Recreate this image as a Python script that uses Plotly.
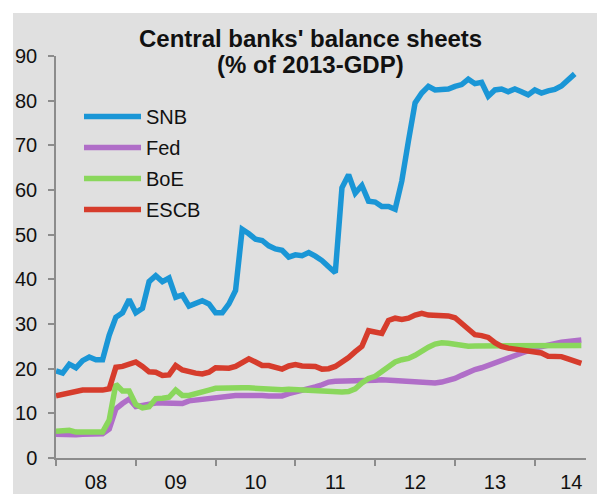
import plotly.graph_objects as go

# Monthly observations, Jan 2008 onward (month index 0 = Jan 2008)
snb = [19.5, 19.0, 21.0, 20.2, 21.8, 22.6, 22.0, 22.0, 27.5, 31.5, 32.5, 35.5,
       32.5, 33.5, 39.5, 40.8, 39.5, 40.3, 36.0, 36.5, 34.0, 34.5, 35.2, 34.5,
       32.5, 32.5, 34.5, 37.5, 51.2, 50.2, 49.0, 48.7, 47.5, 46.8, 46.5, 45.0,
       45.5, 45.3, 46.0, 45.2, 44.2, 42.8, 41.5, 60.5, 63.4, 59.3, 61.0, 57.5,
       57.3, 56.3, 56.3, 55.7, 62.0, 71.0, 79.5, 81.7, 83.2, 82.4, 82.5, 82.6,
       83.2, 83.6, 84.8, 83.8, 84.1, 81.0, 82.4, 82.6, 82.0, 82.6, 82.0, 81.3,
       82.4, 81.7, 82.2, 82.5, 83.3, 84.5, 86.0]
fed = [5.3, 5.2, 5.3, 5.2, 5.3, 5.3, 5.3, 5.4, 6.5, 11.0, 12.2, 13.2,
       11.5, 11.8, 12.0, 12.3, 12.3, 12.3, 12.0, 12.2, 12.8, 13.0, 13.2, 13.4,
       13.6, 13.8, 13.9, 14.0, 14.0, 14.1, 14.1, 14.0, 13.9, 13.9, 13.9, 14.4,
       14.7, 15.1, 15.5, 15.9, 16.4, 17.0, 17.2, 17.2, 17.1, 17.1, 17.1, 17.2,
       17.4, 17.5, 17.4, 17.2, 17.0, 17.0, 17.1, 16.9, 16.8, 16.8, 17.0, 17.3,
       17.8, 18.5, 19.2, 19.8, 20.2, 20.7, 21.3, 21.8, 22.3, 22.8, 23.4, 24.0,
       24.6, 25.0, 25.4, 25.7, 25.9, 26.1, 26.3, 26.4]
boe = [6.0, 6.1, 6.2, 5.8, 5.8, 5.8, 5.8, 5.8, 8.5, 16.5, 15.0, 15.0,
       12.0, 11.2, 11.5, 13.3, 13.4, 13.6, 15.2, 14.0, 14.0, 14.5, 14.7, 15.2,
       15.6, 15.7, 15.6, 15.7, 15.7, 15.7, 15.6, 15.5, 15.2, 15.2, 15.3, 15.4,
       15.3, 15.2, 15.1, 15.0, 15.0, 14.9, 14.8, 14.8, 14.9, 15.5, 16.8, 17.8,
       18.3, 19.3, 20.5, 21.5, 22.0, 22.3, 23.0, 24.0, 24.8, 25.5, 25.8, 25.7,
       25.4, 25.1, 25.0, 25.1, 25.1, 25.1, 25.1, 25.1, 25.1, 25.1, 25.1, 25.1,
       25.1, 25.1, 25.1, 25.1, 25.2, 25.2, 25.2, 25.2]
escb = [13.9, 14.2, 14.5, 15.0, 15.2, 15.2, 15.1, 15.2, 15.5, 20.3, 20.5, 21.0,
        21.5, 20.5, 19.3, 19.2, 18.5, 18.6, 20.7, 19.7, 19.2, 19.0, 18.8, 19.2,
        20.2, 20.0, 20.1, 20.5, 21.3, 22.2, 21.5, 20.7, 20.7, 20.3, 19.9, 20.6,
        20.9, 20.6, 20.6, 20.5, 19.9, 20.0, 20.5, 21.4, 22.5, 23.8, 25.0, 28.5,
        28.2, 27.9, 30.8, 31.3, 31.0, 31.3, 32.0, 32.4, 32.0, 32.0, 31.8, 31.8,
        31.4, 30.0, 28.6, 27.6, 27.4, 27.0, 25.8, 25.0, 24.6, 24.4, 24.1, 23.9,
        23.8, 23.5, 22.8, 22.7, 22.7, 22.2, 21.6, 21.2]

series_names = ["SNB", "Fed", "BoE", "ESCB"]
series_values = [snb, fed, boe, escb]
series_colors = ["#1a96d6", "#b06ec8", "#8ad75c", "#d63c2c"]

year_labels = ["08", "09", "10", "11", "12", "13", "14"]
year_label_pos = [6, 18, 30, 42, 54, 66, 77.5]
year_starts = [0, 12, 24, 36, 48, 60, 72]
y_ticks = [0, 10, 20, 30, 40, 50, 60, 70, 80, 90]

FONT = "Liberation Sans, Arial, sans-serif"

fig = go.Figure()
for name, vals, col in zip(series_names, series_values, series_colors):
    fig.add_trace(go.Scatter(
        x=list(range(len(vals))), y=vals, name=name, mode="lines",
        line=dict(color=col, width=5.5), legendgroup=name,
    ))

W, H = 597, 494
ml, mr, mt, mb = 56, 11, 56, 36
pw, ph = W - ml - mr, H - mt - mb

def px_x(p):
    return (p - ml) / pw

def px_y(p):
    return (H - mb - p) / ph

fig.update_layout(
    width=W, height=H,
    margin=dict(l=ml, r=mr, t=mt, b=mb, pad=0, autoexpand=False),
    paper_bgcolor="white",
    plot_bgcolor="#e0e0e0",
    font=dict(family=FONT, size=20, color="#111111"),
    showlegend=True,
    legend=dict(
        x=px_x(79), y=px_y(97), xanchor="left", yanchor="top",
        bgcolor="rgba(0,0,0,0)", borderwidth=0,
        font=dict(family=FONT, size=20, color="#111111"),
        itemwidth=57, tracegroupgap=2,
    ),
    shapes=[dict(
        type="rect", xref="paper", yref="paper", layer="below",
        x0=px_x(13), x1=px_x(W + 5), y0=px_y(H + 5), y1=px_y(13),
        fillcolor="#e0e0e0", line=dict(width=0),
    )],
    annotations=[
        dict(text="<b>Central banks' balance sheets</b>", xref="paper", yref="paper",
             x=px_x(310), y=px_y(38), xanchor="center", yanchor="middle",
             showarrow=False, font=dict(family=FONT, size=24, color="#111111")),
        dict(text="<b>(% of 2013-GDP)</b>", xref="paper", yref="paper",
             x=px_x(310), y=px_y(65), xanchor="center", yanchor="middle",
             showarrow=False, font=dict(family=FONT, size=24, color="#111111")),
    ],
)

fig.update_xaxes(
    range=[0, 79.7], showgrid=False, zeroline=False, automargin=False,
    showline=True, linecolor="#8c8c8c", linewidth=1.5,
    tickmode="array", tickvals=year_label_pos, ticktext=year_labels,
    ticks="", ticklabelstandoff=5,
    minor=dict(tickmode="array", tickvals=year_starts, ticks="outside",
               ticklen=6, tickcolor="#8c8c8c", tickwidth=1.5, showgrid=False),
)
fig.update_yaxes(
    range=[0, 90], showgrid=False, zeroline=False, automargin=False,
    showline=True, linecolor="#8c8c8c", linewidth=1.5,
    tickmode="array", tickvals=y_ticks,
    ticks="outside", ticklen=6, tickcolor="#8c8c8c", tickwidth=1.5,
    ticklabelstandoff=7,
)

fig.write_html(
    "out.html",
    config={"displayModeBar": False},
    post_script="document.body.style.margin='0';document.body.style.overflow='hidden';",
)
